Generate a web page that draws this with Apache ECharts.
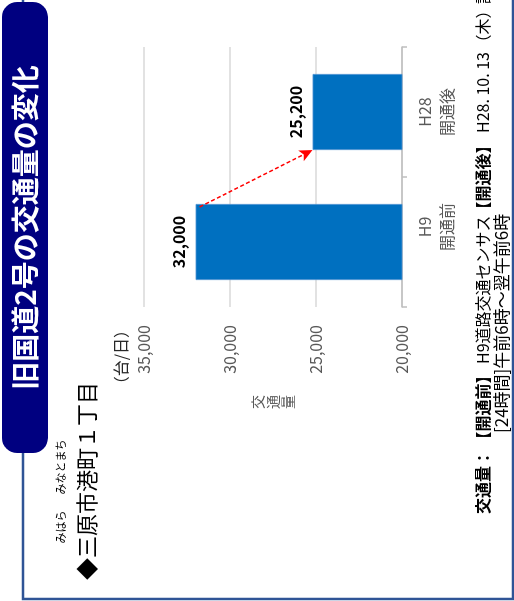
<!DOCTYPE html>
<html>
<head>
<meta charset="utf-8">
<title>旧国道2号の交通量の変化</title>
<style>
  html, body { margin: 0; padding: 0; width: 514px; height: 601px; overflow: hidden; background: #fff; }
  /* the panel is laid out landscape and turned a quarter turn counter-clockwise */
  #chart {
    position: absolute; left: 0; top: 601px;
    width: 601px; height: 514px;
    transform-origin: 0 0; transform: rotate(-90deg);
  }
</style>
<script src="https://cdn.jsdelivr.net/npm/echarts@6/dist/echarts.min.js"></script>
</head>
<body>
<div id="chart"></div>
<script>
// daily traffic before / after opening of the bypass
const categories = ['H9\n開通前', 'H28\n開通後'];
const trafficVolume = [32000, 25200];
const valueTicks = [20000, 25000, 30000, 35000];

const FONT = "'Noto Sans CJK JP', 'Noto Sans', sans-serif";
const BAR_RATIO = 0.585;

const fmt = v => v.toLocaleString('en-US');

const chart = echarts.init(document.getElementById('chart'), null, { renderer: 'canvas' });

// dashed red arrow from the top of the first bar to the top of the second
function renderArrow(params, api) {
  const from = api.coord([api.value(0), api.value(1)]);
  const to = api.coord([api.value(2), api.value(3)]);
  const half = api.size([1, 0])[0] * BAR_RATIO / 2;
  const sx = from[0] + half - 3, sy = from[1] + 4;
  const tx = to[0] - half, ty = to[1];
  const dx = tx - sx, dy = ty - sy;
  const len = Math.sqrt(dx * dx + dy * dy);
  const ux = dx / len, uy = dy / len;
  const headLen = 13, headHalf = 6;
  const bx = tx - ux * headLen, by = ty - uy * headLen;
  return {
    type: 'group',
    children: [
      {
        type: 'line',
        shape: { x1: sx, y1: sy, x2: bx + ux * 2, y2: by + uy * 2 },
        style: { stroke: '#FF0000', lineWidth: 1.5, lineDash: [4, 2.5] }
      },
      {
        type: 'polygon',
        shape: { points: [[tx, ty], [bx - uy * headHalf, by + ux * headHalf], [bx + ux * 3, by + uy * 3], [bx + uy * headHalf, by - ux * headHalf]] },
        style: { fill: '#FF0000' }
      }
    ]
  };
}

// source note pieces, placed along one line
function note(text, x, y, bold, align) {
  return {
    type: 'text', z: 11, x: x, y: y,
    style: {
      text: text, fill: '#000',
      font: (bold ? 'bold ' : '') + '16px ' + FONT,
      align: align || 'left', verticalAlign: 'middle'
    }
  };
}

chart.setOption({
  animation: false,
  textStyle: { fontFamily: FONT },
  grid: { left: 294, right: 47, top: 144, bottom: 112 },
  xAxis: {
    type: 'category',
    data: [
      { value: categories[0], textStyle: { padding: [0, 0, 0, 30] } },
      { value: categories[1] }
    ],
    axisLine: { lineStyle: { color: '#BFBFBF', width: 1.5 } },
    axisTick: { show: true, length: 5, lineStyle: { color: '#BFBFBF', width: 1.5 } },
    axisLabel: { color: '#595959', fontSize: 16, lineHeight: 22, margin: 12, fontFamily: FONT }
  },
  yAxis: {
    type: 'value',
    min: valueTicks[0],
    max: valueTicks[valueTicks.length - 1],
    interval: valueTicks[1] - valueTicks[0],
    name: '交\n通\n量',
    nameLocation: 'middle',
    nameRotate: 0,
    nameGap: 88,
    nameTextStyle: { color: '#595959', fontSize: 14, lineHeight: 15, fontFamily: FONT },
    axisLine: { show: false },
    axisTick: { show: false },
    axisLabel: { color: '#595959', fontSize: 16, margin: 18, formatter: fmt, fontFamily: FONT },
    splitLine: { lineStyle: { color: '#D9D9D9', width: 1.5 } }
  },
  series: [
    {
      type: 'bar',
      data: trafficVolume,
      barWidth: (BAR_RATIO * 100) + '%',
      itemStyle: { color: '#0070C0', borderColor: '#4F93D2', borderWidth: 0.8 },
      label: {
        show: true, position: 'top', distance: 9,
        color: '#000', fontSize: 16, fontWeight: 'bold', fontFamily: FONT,
        formatter: p => fmt(p.value)
      },
      z: 2
    },
    {
      type: 'custom',
      coordinateSystem: 'cartesian2d',
      renderItem: renderArrow,
      data: [[0, trafficVolume[0], 1, trafficVolume[1]]],
      encode: { x: 0, y: 1 },
      silent: true,
      z: 5
    }
  ],
  graphic: [
    {
      type: 'rect', z: 0,
      shape: { x: 2, y: 23, width: 700, height: 490 },
      style: { fill: 'none', stroke: '#2F5496', lineWidth: 2.5 }
    },
    {
      type: 'rect', z: 10,
      shape: { x: 148, y: 2, width: 451, height: 46, r: 15 },
      style: { fill: '#000080' }
    },
    {
      type: 'text', z: 11, x: 373.5, y: 25,
      style: {
        text: '旧国道2号の交通量の変化', fill: '#fff',
        font: 'bold 28px ' + FONT, align: 'center', verticalAlign: 'middle'
      }
    },
    {
      type: 'text', z: 11, x: 21, y: 87,
      style: { text: '◆三原市港町１丁目', fill: '#000', font: '22px ' + FONT, verticalAlign: 'middle' }
    },
    {
      type: 'text', z: 11, x: 74, y: 61,
      style: { text: 'みはら', fill: '#000', font: '11px ' + FONT, align: 'center', verticalAlign: 'middle' }
    },
    {
      type: 'text', z: 11, x: 134, y: 61,
      style: { text: 'みなとまち', fill: '#000', font: '11px ' + FONT, align: 'center', verticalAlign: 'middle' }
    },
    {
      type: 'text', z: 11, x: 279, y: 121,
      style: { text: '（台/日）', fill: '#262626', font: '16px ' + FONT, align: 'right', verticalAlign: 'middle' }
    },
    note('交通量：', 87, 483, true),
    note('【開通前】', 193.5, 483, true, 'center'),
    note('H9道路交通センサス', 237, 483, false),
    note('【開通後】', 423.5, 483, true, 'center'),
    note('H28. 10. 13', 468, 483, false),
    note('（木）', 574.5, 483, false, 'center'),
    note('調査', 597, 483, false),
    {
      type: 'text', z: 11, x: 168, y: 502,
      style: { text: '[24時間]午前6時～翌午前6時', fill: '#000', font: '17px ' + FONT, verticalAlign: 'middle' }
    }
  ]
});
</script>
</body>
</html>
